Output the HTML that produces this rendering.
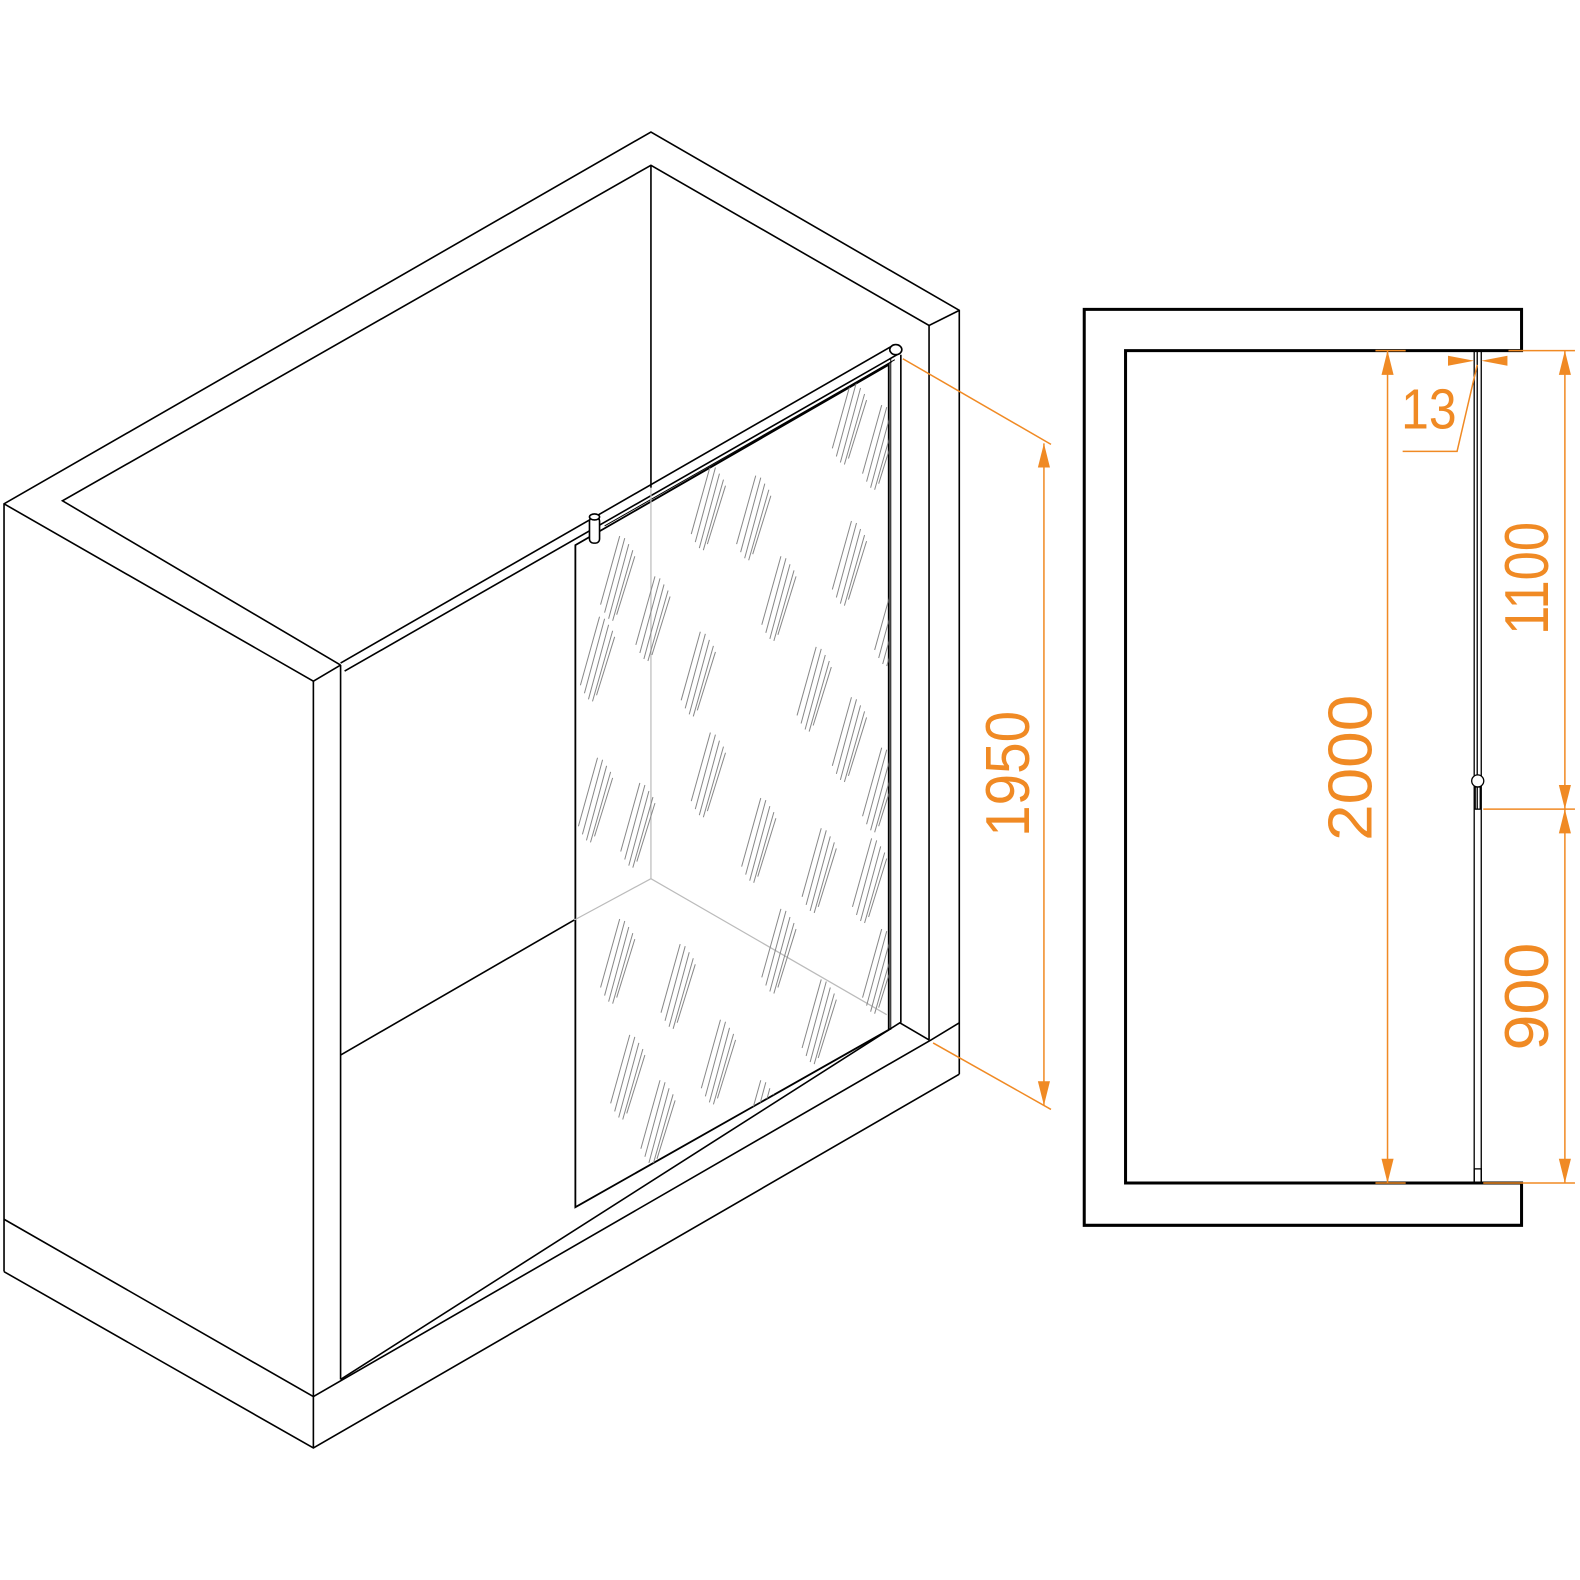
<!DOCTYPE html>
<html><head><meta charset="utf-8"><style>html,body{margin:0;padding:0;background:#fff}svg{display:block}</style></head>
<body>
<svg width="1580" height="1580" viewBox="0 0 1568 1568" xmlns="http://www.w3.org/2000/svg">
<defs>
<g id="s" stroke="#888" stroke-width="1" fill="none">
<line x1="0" y1="38" x2="20" y2="-36"/><line x1="4" y1="44" x2="24" y2="-30"/><line x1="8" y1="46" x2="28" y2="-24"/><line x1="12" y1="40" x2="30" y2="-18"/><line x1="-4" y1="30" x2="15" y2="-38"/>
</g>
<clipPath id="gc"><polygon points="571,541 882,362 882,1022 571,1198"/></clipPath>
</defs>
<rect width="1568" height="1568" fill="#fff"/>
<g fill="none" stroke="#000" stroke-width="1.6" stroke-linejoin="miter">
<polyline points="4,1262 4,500 646,131 952,308 952,1066"/>
<polyline points="4,500 311,676 338,660"/>
<polyline points="338,660 62,497 646,164 922,323 952,308"/>
<line x1="311" y1="676" x2="311" y2="1437"/>
<line x1="338" y1="660" x2="338" y2="1369"/>
<line x1="646" y1="164" x2="646" y2="484"/>
<line x1="922" y1="323" x2="922" y2="1032"/>
<polyline points="4,1210 311,1386 924,1032 952,1015"/>
<polyline points="4,1262 311,1437 952,1066"/>
<polyline points="338,1369 893,1015 922,1032"/>
<line x1="338" y1="1047" x2="570" y2="913"/>
<polygon points="571,541 882,362 882,1022 571,1198" stroke-width="1.8"/>
<line x1="894" y1="352" x2="894" y2="1015"/>
<line x1="884" y1="356" x2="884" y2="1022" stroke-width="1"/>
<line x1="338" y1="658" x2="886" y2="343"/>
<line x1="342" y1="666" x2="892" y2="351"/>
<line x1="571" y1="541" x2="888" y2="357" stroke-width="1"/>
<line x1="600" y1="522" x2="885" y2="359" stroke-width="1"/>
<ellipse cx="889" cy="347" rx="6" ry="5" fill="#fff"/>
<rect x="585" y="513" width="10" height="26" rx="4" fill="#fff"/>
<ellipse cx="590" cy="513" rx="5" ry="3" fill="#fff"/>
</g>
<g stroke="#bbb" stroke-width="1.2">
<line x1="646" y1="484" x2="646" y2="872"/>
<line x1="570" y1="913" x2="646" y2="872"/>
<line x1="646" y1="872" x2="880" y2="1007"/>
</g>
<g clip-path="url(#gc)">
<use href="#s" x="600" y="570"/><use href="#s" x="635" y="610"/><use href="#s" x="680" y="665"/>
<use href="#s" x="735" y="510"/><use href="#s" x="760" y="590"/><use href="#s" x="830" y="555"/>
<use href="#s" x="795" y="680"/><use href="#s" x="830" y="730"/><use href="#s" x="860" y="440"/>
<use href="#s" x="830" y="415"/><use href="#s" x="690" y="765"/><use href="#s" x="620" y="815"/>
<use href="#s" x="740" y="830"/><use href="#s" x="800" y="860"/><use href="#s" x="850" y="870"/>
<use href="#s" x="600" y="950"/><use href="#s" x="660" y="975"/><use href="#s" x="760" y="940"/>
<use href="#s" x="700" y="1050"/><use href="#s" x="800" y="1010"/><use href="#s" x="640" y="1110"/>
<use href="#s" x="860" y="960"/><use href="#s" x="578" y="790"/><use href="#s" x="610" y="1065"/>
<use href="#s" x="872" y="615"/><use href="#s" x="690" y="500"/><use href="#s" x="580" y="650"/>
<use href="#s" x="740" y="1110"/><use href="#s" x="860" y="780"/>
</g>
<polygon points="1076,307 1510,307 1510,348 1117,348 1117,1174 1510,1174 1510,1216 1076,1216" fill="none" stroke="#000" stroke-width="3"/>
<g stroke="#000" stroke-width="1.3" fill="none">
<line x1="1463" y1="348" x2="1463" y2="1174"/>
<line x1="1470" y1="348" x2="1470" y2="1174"/>
<line x1="1466" y1="348" x2="1466" y2="803"/>
<rect x="1463" y="1160" width="7" height="14"/>
<circle cx="1466.5" cy="775" r="6" fill="#fff"/>
<rect x="1464" y="781" width="5" height="22"/>
</g>
<g stroke="#f08a24" stroke-width="1.5" fill="none">
<line x1="1365" y1="348" x2="1395" y2="348"/><line x1="1365" y1="1174" x2="1395" y2="1174"/>
<line x1="1377" y1="348" x2="1377" y2="1174"/>
<line x1="1497" y1="348" x2="1563" y2="348"/><line x1="1472" y1="803" x2="1563" y2="803"/><line x1="1472" y1="1174" x2="1563" y2="1174"/>
<line x1="1553" y1="348" x2="1553" y2="1174"/>
<polyline points="1466,362 1446,448 1392,448"/>
<line x1="1036" y1="440" x2="1036" y2="1097"/>
<line x1="896" y1="356" x2="1043" y2="441"/>
<line x1="926" y1="1035" x2="1043" y2="1101"/>
</g>
<g fill="#f08a24">
<polygon points="1377,348 1371,372 1383,372"/><polygon points="1377,1174 1371,1150 1383,1150"/>
<polygon points="1553,348 1547,372 1559,372"/><polygon points="1553,803 1547,779 1559,779"/>
<polygon points="1553,803 1547,827 1559,827"/><polygon points="1553,1174 1547,1150 1559,1150"/>
<polygon points="1036,440 1030,464 1042,464"/><polygon points="1036,1097 1030,1073 1042,1073"/>
<polygon points="1463,358 1437,353 1437,363"/><polygon points="1470,358 1496,353 1496,363"/>
</g>
<g fill="#f08a24" font-family="Liberation Sans, sans-serif" font-size="62" text-anchor="middle" lengthAdjust="spacingAndGlyphs">
<text transform="translate(1361,762) rotate(-90)" textLength="145" lengthAdjust="spacingAndGlyphs">2000</text>
<text transform="translate(1536,574) rotate(-90)" textLength="112" lengthAdjust="spacingAndGlyphs">1100</text>
<text transform="translate(1536,989) rotate(-90)" textLength="107" lengthAdjust="spacingAndGlyphs">900</text>
<text transform="translate(1021,768) rotate(-90)" textLength="125" lengthAdjust="spacingAndGlyphs">1950</text>
<text x="1418" y="425" font-size="56" textLength="55" lengthAdjust="spacingAndGlyphs">13</text>
</g>
</svg>
</body></html>
